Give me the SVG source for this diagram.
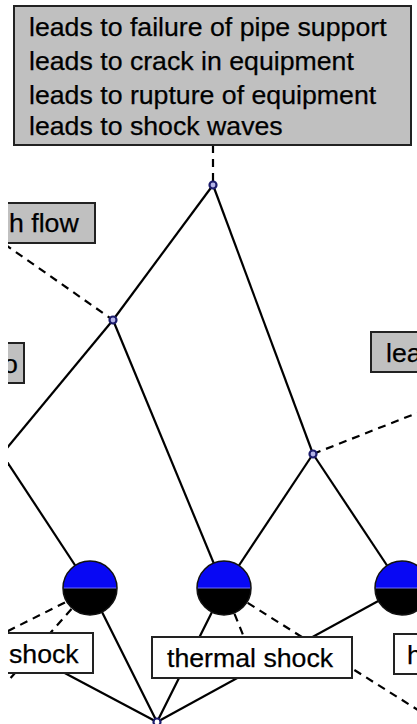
<svg xmlns="http://www.w3.org/2000/svg" width="417" height="724" viewBox="0 0 417 724">
<defs>
<style>
.t{font-family:"Liberation Sans",Arial,sans-serif;font-size:26.7px;fill:#000;stroke:#000;stroke-width:0.25}
.gbox{fill:#c0c0c0;stroke:#222;stroke-width:2}
.wbox{fill:#fff;stroke:#222;stroke-width:2}
.ln{stroke:#000;stroke-width:2.2;fill:none}
.dl{stroke:#000;stroke-width:2.2;fill:none;stroke-dasharray:8,6}
.pt{fill:#b4b4e8;stroke:#1c1c6c;stroke-width:2.2}
.top{fill:#0808f4}
.bot{fill:#000}
.mid{stroke:#6a6aff;stroke-width:1.2}
.rim{fill:none;stroke:#111;stroke-width:1.5}
</style>
<clipPath id="cp"><rect x="8" y="0" width="409" height="724"/></clipPath>
<g id="ball">
<path class="top" d="M-27,0 A27,27 0 0 1 27,0 Z"/>
<path class="bot" d="M-27,0 A27,27 0 0 0 27,0 Z"/>
<line class="mid" x1="-27" y1="0" x2="27" y2="0"/>
<circle class="rim" r="27"/>
</g>
</defs>
<rect x="0" y="0" width="417" height="724" fill="#fff"/>
<g clip-path="url(#cp)">
<g id="connectors">
<line class="dl" x1="213" y1="145" x2="213" y2="185"/>
<line class="ln" x1="213" y1="185" x2="113" y2="320"/>
<line class="ln" x1="213" y1="185" x2="313" y2="454"/>
<line class="dl" x1="-30" y1="220" x2="113" y2="320"/>
<line class="ln" x1="113" y1="320" x2="2" y2="454"/>
<line class="ln" x1="113" y1="320" x2="224" y2="588"/>
<line class="dl" x1="313" y1="454" x2="572" y2="352"/>
<line class="ln" x1="313" y1="454" x2="224" y2="588"/>
<line class="ln" x1="313" y1="454" x2="402" y2="588"/>
<line class="ln" x1="2" y1="454" x2="90" y2="588"/>
<line class="dl" x1="90" y1="590" x2="-10" y2="640"/>
<line class="dl" x1="90" y1="588" x2="0" y2="690"/>
<line class="ln" x1="90" y1="588" x2="157" y2="722"/>
<line class="ln" x1="27" y1="653" x2="157" y2="722"/>
<line class="ln" x1="157" y1="722" x2="224" y2="588"/>
<line class="ln" x1="157" y1="722" x2="402" y2="588"/>
<line class="dl" x1="224" y1="588" x2="252" y2="657"/>
<line class="dl" x1="224" y1="588" x2="480" y2="749"/>
</g>
<g id="n-top-box">
<rect class="gbox" x="14" y="6" width="397" height="139"/>
<text class="t" x="29" y="36">leads to failure of pipe support</text>
<text class="t" x="29" y="70">leads to crack in equipment</text>
<text class="t" x="29" y="104">leads to rupture of equipment</text>
<text class="t" x="29" y="135">leads to shock waves</text>
</g>
<g id="n-hflow">
<rect class="gbox" x="-20" y="203" width="115" height="40"/>
<text class="t" x="9" y="232">h flow</text>
</g>
<g id="n-o">
<rect class="gbox" x="-20" y="343" width="44" height="40"/>
<text class="t" x="3" y="373">o</text>
</g>
<g id="n-lea">
<rect class="gbox" x="371" y="332" width="80" height="40"/>
<text class="t" x="386" y="362">lea</text>
</g>
<g id="n-shock">
<rect class="wbox" x="-20" y="633" width="113" height="40"/>
<text class="t" x="9" y="663">shock</text>
</g>
<g id="n-thermal">
<rect class="wbox" x="152" y="637" width="200" height="41"/>
<text class="t" x="167" y="667">thermal shock</text>
</g>
<g id="n-h">
<rect class="wbox" x="394" y="634" width="60" height="40"/>
<text class="t" x="407" y="664">h</text>
</g>
<g id="n-p1"><circle class="pt" cx="213" cy="185" r="3.5"/></g>
<g id="n-p2"><circle class="pt" cx="113" cy="320" r="3.5"/></g>
<g id="n-p3"><circle class="pt" cx="313" cy="454" r="3.5"/></g>
<g id="n-p4"><circle class="pt" cx="2" cy="454" r="3.5"/></g>
<g id="n-p5"><circle class="pt" cx="157" cy="722" r="3.5" style="fill:#fff"/></g>
<g id="n-ball1"><use href="#ball" x="90" y="588"/></g>
<g id="n-ball2"><use href="#ball" x="224" y="588"/></g>
<g id="n-ball3"><use href="#ball" x="402" y="588"/></g>
</g>
</svg>
